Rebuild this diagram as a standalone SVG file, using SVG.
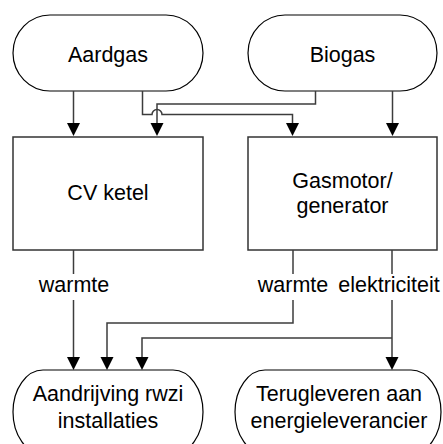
<svg xmlns="http://www.w3.org/2000/svg" width="443" height="444" viewBox="0 0 443 444">
  <style>
    .shape { fill: #ffffff; stroke: #000000; stroke-width: 1.2; }
    .box { fill: #ffffff; stroke: #333333; stroke-width: 1.5; }
    .wire { fill: none; stroke: #3c3c3c; stroke-width: 1.5; }
    .head { fill: #000000; }
    text { font-family: "Liberation Sans", Arial, sans-serif; font-size: 21.5px; fill: #000000; text-anchor: middle; }
  </style>
  <defs>
    <!-- downward arrowhead, tip at the origin -->
    <polygon id="head" class="head" points="-6.5,-13 6.5,-13 0,0"/>
  </defs>
  <rect width="443" height="444" fill="#ffffff"/>

  <!-- sources -->
  <g id="aardgas">
    <rect class="shape" x="13" y="15" width="190" height="76" rx="37" ry="38"/>
    <text x="108" y="62">Aardgas</text>
  </g>
  <g id="biogas">
    <rect class="shape" x="248" y="15" width="189" height="76" rx="37" ry="38"/>
    <text x="342.5" y="62">Biogas</text>
  </g>

  <!-- conversion units -->
  <g id="cv-ketel">
    <rect class="box" x="13" y="137" width="190" height="113"/>
    <text x="108" y="200">CV ketel</text>
  </g>
  <g id="gasmotor">
    <rect class="box" x="248" y="137" width="189" height="113"/>
    <text x="342.5" y="188">Gasmotor/</text>
    <text x="342.5" y="213">generator</text>
  </g>

  <!-- sinks -->
  <g id="aandrijving">
    <rect class="shape" x="13" y="370" width="190" height="84" rx="30" ry="42"/>
    <text x="108" y="401">Aandrijving rwzi</text>
    <text x="108" y="428">installaties</text>
  </g>
  <g id="terugleveren">
    <rect class="shape" x="235" y="370" width="206" height="84" rx="30" ry="42"/>
    <text x="339" y="401">Terugleveren aan</text>
    <text x="339" y="428">energieleverancier</text>
  </g>

  <!-- connectors -->
  <g id="connectors">
    <path class="wire" d="M73.5 91 V124"/>
    <path class="wire" d="M142.5 91 V114.5 H152 A5 5 0 0 1 162 114.5 H292.5 V124"/>
    <path class="wire" d="M315.5 91 V104 H157 V124"/>
    <path class="wire" d="M392.5 91 V124"/>

    <path class="wire" d="M73.5 250 V274"/>
    <path class="wire" d="M293 250 V274"/>
    <path class="wire" d="M392 250 V274"/>

    <path class="wire" d="M73.5 300 V357"/>
    <path class="wire" d="M293 300 V323 H107 V357"/>
    <path class="wire" d="M392 300 V357"/>
    <path class="wire" d="M392 338 H142 V357"/>

    <use href="#head" x="73.5" y="136"/>
    <use href="#head" x="157" y="136"/>
    <use href="#head" x="292.5" y="136"/>
    <use href="#head" x="392.5" y="136"/>
    <use href="#head" x="73.5" y="370"/>
    <use href="#head" x="107" y="370"/>
    <use href="#head" x="142" y="370"/>
    <use href="#head" x="392" y="370"/>

    <text x="74" y="292">warmte</text>
    <text x="293" y="292">warmte</text>
    <text x="389" y="292">elektriciteit</text>
  </g>
</svg>
